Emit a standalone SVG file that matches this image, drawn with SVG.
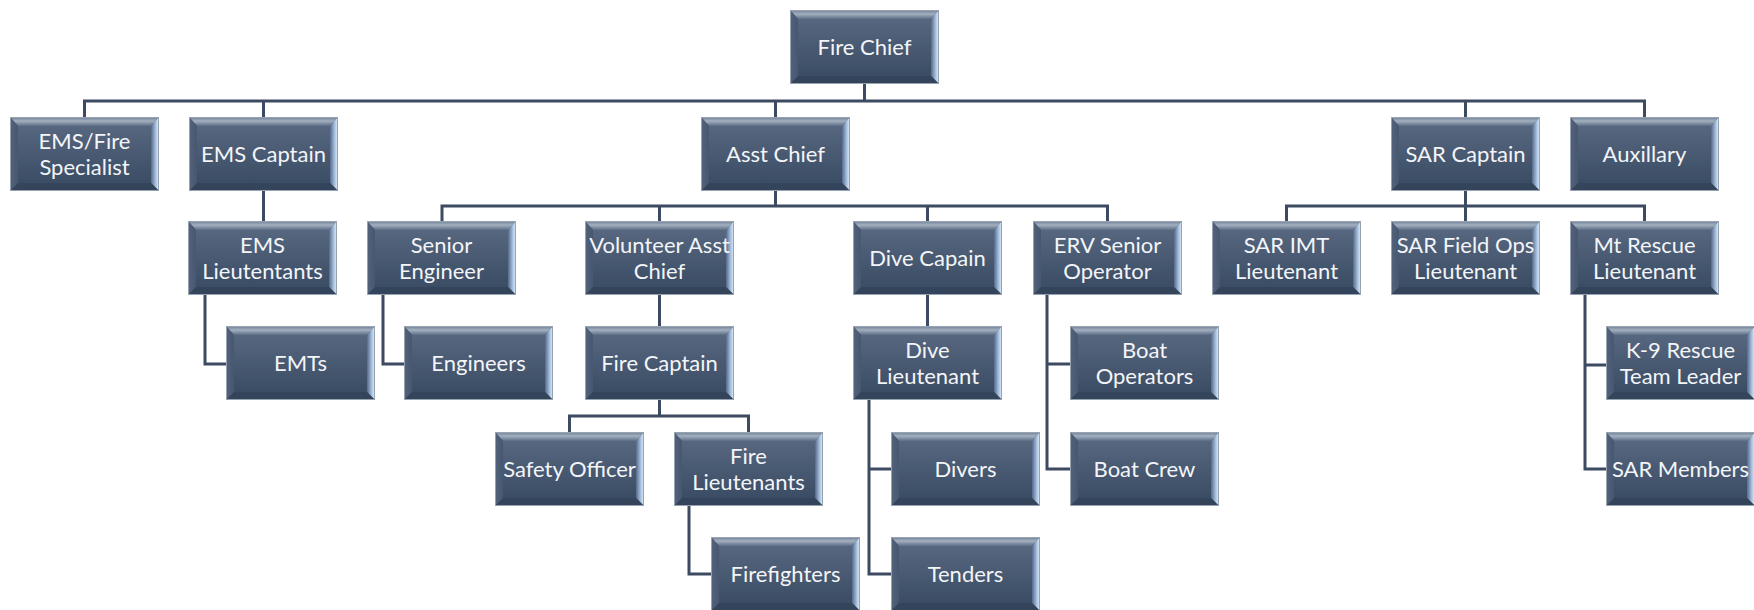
<svg xmlns="http://www.w3.org/2000/svg" xmlns:xlink="http://www.w3.org/1999/xlink" width="1754" height="610" viewBox="0 0 1754 610">
<style>
.t{font-family:Lato,"Liberation Sans",sans-serif;font-size:22px;fill:#f3f5f8;text-anchor:middle}
.c{fill:none;stroke:#3c4b62;stroke-width:3;stroke-linecap:square;stroke-linejoin:miter}
</style>
<defs>
<linearGradient id="gFace" x1="0" y1="0" x2="0" y2="1">
<stop offset="0" stop-color="#56677f"/><stop offset="1" stop-color="#3b4c65"/>
</linearGradient>
<linearGradient id="gTop" x1="0" y1="0" x2="0" y2="1">
<stop offset="0" stop-color="#6d7d93"/><stop offset="0.45" stop-color="#a3b0c0"/><stop offset="1" stop-color="#5c6d85"/>
</linearGradient>
<linearGradient id="gRight" x1="0" y1="0" x2="1" y2="0">
<stop offset="0" stop-color="#56698a"/><stop offset="0.6" stop-color="#a9c3e0"/><stop offset="1" stop-color="#e4f0fc"/>
</linearGradient>
<linearGradient id="gLeft" x1="0" y1="0" x2="1" y2="0">
<stop offset="0" stop-color="#52637b"/><stop offset="1" stop-color="#46576f"/>
</linearGradient>
<symbol id="bx" viewBox="0 0 149 74" width="149" height="74">
<rect x="0" y="0" width="149" height="74" fill="#44556d"/>
<rect x="8" y="8" width="133" height="58" fill="url(#gFace)"/>
<polygon points="0,0 149,0 141,9 8,9" fill="url(#gTop)"/>
<polygon points="0,0 8,9 8,66 0,74" fill="url(#gLeft)"/>
<polygon points="149,0 149,74 141,66 141,9" fill="url(#gRight)"/>
<polygon points="0,74 149,74 141,66 8,66" fill="#34445a"/>
<rect x="0.5" y="0.5" width="148" height="73" fill="none" stroke="#98a3b2" stroke-width="1"/>
</symbol>
</defs>
<rect width="1754" height="610" fill="#ffffff"/>
<g id="connectors">
<path class="c" d="M864.5 84 V101 M84.5 101 H1644.5 M84.5 101 V117 M263.5 101 V117 M775.5 101 V117 M1465.5 101 V117 M1644.5 101 V117"/>
<path class="c" d="M263.5 191 V221"/>
<path class="c" d="M205 295 V364 H226"/>
<path class="c" d="M775.5 191 V206 M442 206 H1107.5 M442 206 V221 M659.5 206 V221 M927.5 206 V221 M1107.5 206 V221"/>
<path class="c" d="M383 295 V364 H404"/>
<path class="c" d="M659.5 295 V326"/>
<path class="c" d="M659.5 400 V416 M569.5 416 H748.5 M569.5 416 V432 M748.5 416 V432"/>
<path class="c" d="M689 506 V574 H711"/>
<path class="c" d="M927.5 295 V326"/>
<path class="c" d="M869 400 V574 H891 M869 469 H891"/>
<path class="c" d="M1047 295 V469 H1070 M1047 364 H1070"/>
<path class="c" d="M1465.5 191 V206 M1286.5 206 H1644.5 M1286.5 206 V221 M1465.5 206 V221 M1644.5 206 V221"/>
<path class="c" d="M1585 295 V469 H1606 M1585 365 H1606"/>
</g>
<g id="fire-chief" transform="translate(790,10)"><use href="#bx"/><text class="t" x="74.5" y="45">Fire Chief</text></g>
<g id="ems-fire-specialist" transform="translate(10,117)"><use href="#bx"/><text class="t" x="74.5" y="32">EMS/Fire</text><text class="t" x="74.5" y="58">Specialist</text></g>
<g id="ems-captain" transform="translate(189,117)"><use href="#bx"/><text class="t" x="74.5" y="45">EMS Captain</text></g>
<g id="asst-chief" transform="translate(701,117)"><use href="#bx"/><text class="t" x="74.5" y="45">Asst Chief</text></g>
<g id="sar-captain" transform="translate(1391,117)"><use href="#bx"/><text class="t" x="74.5" y="45">SAR Captain</text></g>
<g id="auxillary" transform="translate(1570,117)"><use href="#bx"/><text class="t" x="74.5" y="45">Auxillary</text></g>
<g id="ems-lieutenants" transform="translate(188,221)"><use href="#bx"/><text class="t" x="74.5" y="32">EMS</text><text class="t" x="74.5" y="58">Lieutentants</text></g>
<g id="senior-engineer" transform="translate(367,221)"><use href="#bx"/><text class="t" x="74.5" y="32">Senior</text><text class="t" x="74.5" y="58">Engineer</text></g>
<g id="volunteer-asst-chief" transform="translate(585,221)"><use href="#bx"/><text class="t" x="74.5" y="32">Volunteer Asst</text><text class="t" x="74.5" y="58">Chief</text></g>
<g id="dive-capain" transform="translate(853,221)"><use href="#bx"/><text class="t" x="74.5" y="45">Dive Capain</text></g>
<g id="erv-senior-operator" transform="translate(1033,221)"><use href="#bx"/><text class="t" x="74.5" y="32">ERV Senior</text><text class="t" x="74.5" y="58">Operator</text></g>
<g id="sar-imt-lieutenant" transform="translate(1212,221)"><use href="#bx"/><text class="t" x="74.5" y="32">SAR IMT</text><text class="t" x="74.5" y="58">Lieutenant</text></g>
<g id="sar-field-ops-lieutenant" transform="translate(1391,221)"><use href="#bx"/><text class="t" x="74.5" y="32">SAR Field Ops</text><text class="t" x="74.5" y="58">Lieutenant</text></g>
<g id="mt-rescue-lieutenant" transform="translate(1570,221)"><use href="#bx"/><text class="t" x="74.5" y="32">Mt Rescue</text><text class="t" x="74.5" y="58">Lieutenant</text></g>
<g id="emts" transform="translate(226,326)"><use href="#bx"/><text class="t" x="74.5" y="45">EMTs</text></g>
<g id="engineers" transform="translate(404,326)"><use href="#bx"/><text class="t" x="74.5" y="45">Engineers</text></g>
<g id="fire-captain" transform="translate(585,326)"><use href="#bx"/><text class="t" x="74.5" y="45">Fire Captain</text></g>
<g id="dive-lieutenant" transform="translate(853,326)"><use href="#bx"/><text class="t" x="74.5" y="32">Dive</text><text class="t" x="74.5" y="58">Lieutenant</text></g>
<g id="boat-operators" transform="translate(1070,326)"><use href="#bx"/><text class="t" x="74.5" y="32">Boat</text><text class="t" x="74.5" y="58">Operators</text></g>
<g id="k9-rescue-team-leader" transform="translate(1606,326)"><use href="#bx"/><text class="t" x="74.5" y="32">K-9 Rescue</text><text class="t" x="74.5" y="58">Team Leader</text></g>
<g id="safety-officer" transform="translate(495,432)"><use href="#bx"/><text class="t" x="74.5" y="45">Safety Officer</text></g>
<g id="fire-lieutenants" transform="translate(674,432)"><use href="#bx"/><text class="t" x="74.5" y="32">Fire</text><text class="t" x="74.5" y="58">Lieutenants</text></g>
<g id="divers" transform="translate(891,432)"><use href="#bx"/><text class="t" x="74.5" y="45">Divers</text></g>
<g id="boat-crew" transform="translate(1070,432)"><use href="#bx"/><text class="t" x="74.5" y="45">Boat Crew</text></g>
<g id="sar-members" transform="translate(1606,432)"><use href="#bx"/><text class="t" x="74.5" y="45">SAR Members</text></g>
<g id="firefighters" transform="translate(711,537)"><use href="#bx"/><text class="t" x="74.5" y="45">Firefighters</text></g>
<g id="tenders" transform="translate(891,537)"><use href="#bx"/><text class="t" x="74.5" y="45">Tenders</text></g>
</svg>
